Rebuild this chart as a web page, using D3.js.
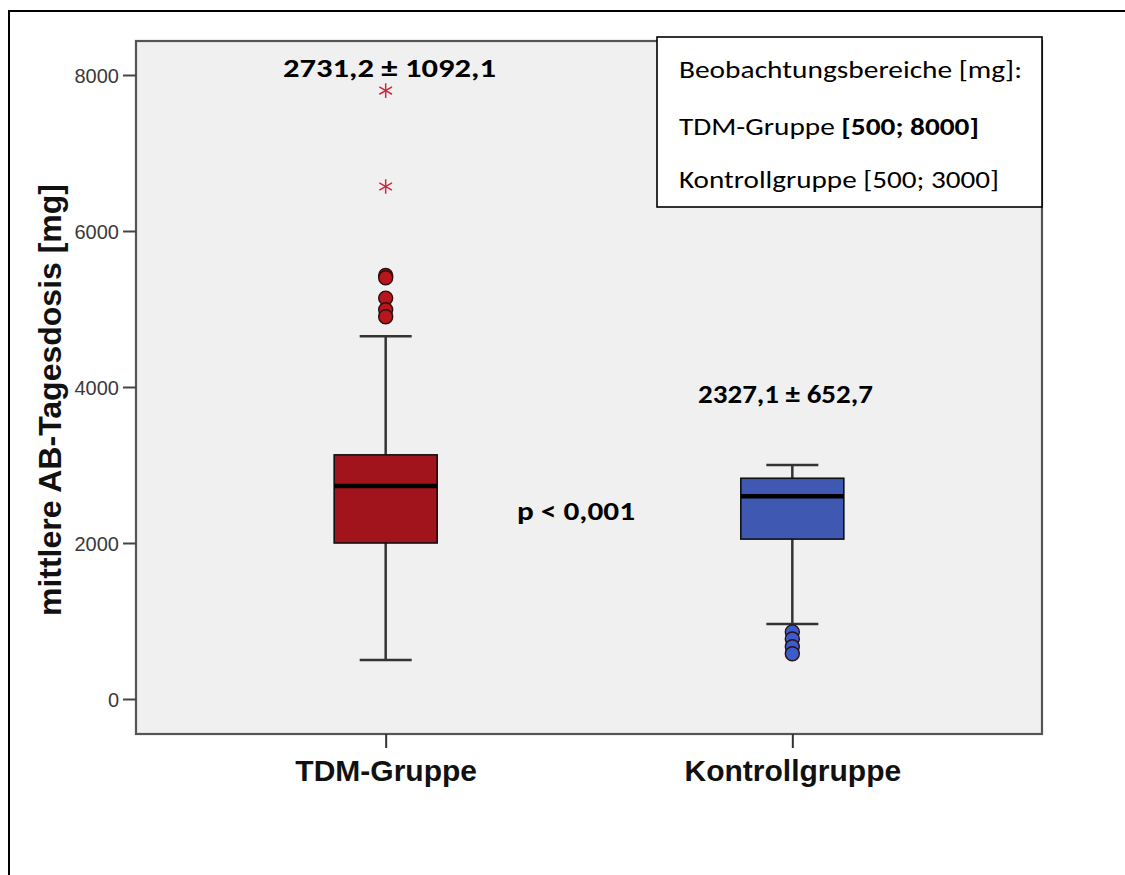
<!DOCTYPE html>
<html>
<head>
<meta charset="utf-8">
<script src="https://cdn.jsdelivr.net/npm/d3@7/dist/d3.min.js"></script>
<style>
  html, body { margin: 0; padding: 0; background: #fff; }
  svg { display: block; }
</style>
</head>
<body>
<svg id="chart" width="1125" height="875"></svg>
<script>
// ---------------- data ----------------
const categories = ["TDM-Gruppe", "Kontrollgruppe"];
const q1 = [2000, 2050];
const median = [2730, 2600];
const q3 = [3130, 2830];
const whiskerLow = [500, 960];
const whiskerHigh = [4650, 3000];
const outliersTDM = [5430, 5400, 5140, 4990, 4900];
const outliersKontroll = [860, 770, 670, 580];
const extremesTDM = [7800, 6570];
const extremesKontroll = [];
const yTicks = [0, 2000, 4000, 6000, 8000];
const meanLabels = ["2731,2 ± 1092,1", "2327,1 ± 652,7"];
const pLabel = "p < 0,001";
const legendLines = ["Beobachtungsbereiche [mg]:", "TDM-Gruppe ", "Kontrollgruppe [500; 3000]"];
const legendBold = "[500; 8000]";
const yTitle = "mittlere AB-Tagesdosis [mg]";

const fills = ["#a1141b", "#3f58b1"];
const outlierFills = ["#b8161c", "#3b5ccb"];
const outliers = [outliersTDM, outliersKontroll];
const extremes = [extremesTDM, extremesKontroll];

// ---------------- layout ----------------
const svg = d3.select("#chart");
const plot = { left: 136, right: 1042, top: 41, bottom: 734 };

const x = d3.scalePoint().domain(categories).range([plot.left, plot.right]).padding(0.614);
const y = d3.scaleLinear().domain([0, 8000]).range([699, 75]);

// outer frame (only left and top visible)
svg.append("path")
  .attr("d", "M9,875 L9,11 L1125,11")
  .attr("fill", "none").attr("stroke", "#000").attr("stroke-width", 2);

// plot background
svg.append("rect")
  .attr("x", plot.left).attr("y", plot.top)
  .attr("width", plot.right - plot.left).attr("height", plot.bottom - plot.top)
  .attr("fill", "#f0f0f0").attr("stroke", "#555").attr("stroke-width", 2.2);

// y axis
const yAxis = d3.axisLeft(y).tickValues(yTicks).tickSize(13).tickPadding(4).tickFormat(d3.format("d"));
const gy = svg.append("g").attr("transform", `translate(${plot.left},0)`).call(yAxis);
gy.select(".domain").remove();
gy.selectAll(".tick line").attr("stroke", "#444").attr("stroke-width", 2);
gy.selectAll(".tick text")
  .attr("fill", "#3a3a3a").style("font-family", "'Liberation Sans', Arial, sans-serif")
  .style("font-size", "20px").attr("dy", "0.36em");

// x axis
const xAxis = d3.axisBottom(x).tickSize(14).tickPadding(10);
const gx = svg.append("g").attr("transform", `translate(0,${plot.bottom})`).call(xAxis);
gx.select(".domain").remove();
gx.selectAll(".tick line").attr("stroke", "#333").attr("stroke-width", 2);
gx.selectAll(".tick text")
  .attr("fill", "#111").style("font-family", "'Liberation Sans', Arial, sans-serif")
  .style("font-size", "30px").style("font-weight", "bold").attr("dy", "0.75em");

// y title
svg.append("text")
  .attr("transform", `translate(61,400) rotate(-90)`)
  .attr("text-anchor", "middle")
  .style("font-family", "'Liberation Sans', Arial, sans-serif")
  .style("font-size", "32px").style("font-weight", "bold").attr("fill", "#111")
  .text(yTitle);

// boxes
const boxW = 103, capW = 52;
categories.forEach((c, i) => {
  const cx = x(c);
  const g = svg.append("g");
  // whiskers
  g.append("line").attr("x1", cx).attr("x2", cx).attr("y1", y(whiskerHigh[i])).attr("y2", y(q3[i]))
    .attr("stroke", "#333").attr("stroke-width", 2.5);
  g.append("line").attr("x1", cx).attr("x2", cx).attr("y1", y(q1[i])).attr("y2", y(whiskerLow[i]))
    .attr("stroke", "#333").attr("stroke-width", 2.5);
  [whiskerHigh[i], whiskerLow[i]].forEach(v => {
    g.append("line").attr("x1", cx - capW / 2).attr("x2", cx + capW / 2).attr("y1", y(v)).attr("y2", y(v))
      .attr("stroke", "#333").attr("stroke-width", 2.5);
  });
  // box
  g.append("rect").attr("x", cx - boxW / 2).attr("y", y(q3[i]))
    .attr("width", boxW).attr("height", y(q1[i]) - y(q3[i]))
    .attr("fill", fills[i]).attr("stroke", "#111").attr("stroke-width", 1.6);
  // median
  g.append("line").attr("x1", cx - boxW / 2).attr("x2", cx + boxW / 2)
    .attr("y1", y(median[i])).attr("y2", y(median[i]))
    .attr("stroke", "#000").attr("stroke-width", 4.5);
  // outliers
  outliers[i].forEach(v => {
    g.append("circle").attr("cx", cx).attr("cy", y(v)).attr("r", 7)
      .attr("fill", outlierFills[i]).attr("stroke", "#2a1010").attr("stroke-width", 1.4);
  });
  // extremes (stars)
  extremes[i].forEach(v => {
    g.append("path").attr("transform", `translate(${cx},${y(v)})`)
      .attr("d", d3.symbol(d3.symbolAsterisk, 150)())
      .attr("fill", "none").attr("stroke", "#d0283a").attr("stroke-width", 1.5);
  });
});

// annotations
function fitText(sel, w) {
  const n = sel.node();
  const len = n.getComputedTextLength();
  if (Math.abs(len - w) > 2) sel.attr("textLength", w).attr("lengthAdjust", "spacingAndGlyphs");
}
const annoFont = "Carlito, Calibri, 'Open Sans', Lato, sans-serif";
const a1 = svg.append("text").attr("x", 283).attr("y", 77)
  .style("font-family", annoFont).style("font-size", "27px").style("font-weight", "bold").attr("fill", "#000")
  .text(meanLabels[0]);
fitText(a1, 213);
const a2 = svg.append("text").attr("x", 698).attr("y", 403)
  .style("font-family", annoFont).style("font-size", "27px").style("font-weight", "bold").attr("fill", "#000")
  .text(meanLabels[1]);
fitText(a2, 175);
const a3 = svg.append("text").attr("x", 517).attr("y", 520)
  .style("font-family", annoFont).style("font-size", "27px").style("font-weight", "bold").attr("fill", "#000")
  .text(pLabel);
fitText(a3, 118);

// legend box
svg.append("rect").attr("x", 657).attr("y", 37).attr("width", 385).attr("height", 170)
  .attr("fill", "#fff").attr("stroke", "#000").attr("stroke-width", 1.6);
const legFont = annoFont;
const l1 = svg.append("text").attr("x", 679).attr("y", 78)
  .style("font-family", legFont).style("font-size", "25px").attr("fill", "#000").text(legendLines[0]);
fitText(l1, 343);
const l2 = svg.append("text").attr("x", 679).attr("y", 135)
  .style("font-family", legFont).style("font-size", "25px").attr("fill", "#000");
l2.append("tspan").text(legendLines[1]);
l2.append("tspan").style("font-weight", "bold").text(legendBold);
fitText(l2, 300);
const l3 = svg.append("text").attr("x", 679).attr("y", 188)
  .style("font-family", legFont).style("font-size", "25px").attr("fill", "#000").text(legendLines[2]);
fitText(l3, 320);
</script>
</body>
</html>
